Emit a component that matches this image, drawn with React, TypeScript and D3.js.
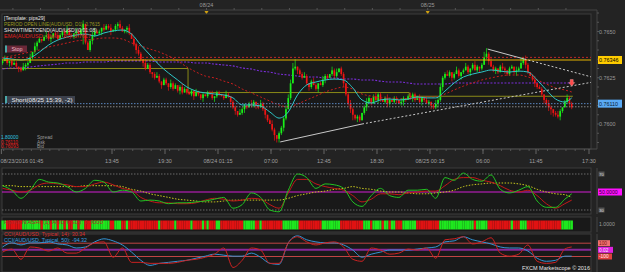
import React from "react";
import * as d3 from "d3";

// ---------- DATA ----------
const START = Date.UTC(2016, 7, 23, 1, 45);
const BAR_MS = 15 * 60 * 1000;
const OPEN0 = 33; // pips above 0.7600 for first open

// 15-minute closes, pips above 0.7600
const closePips = [
  34, 35, 33, 34, 32, 33, 31, 30, 29, 31, 32, 33,
  36, 39, 42, 44,
  46, 45, 47, 48, 46, 47, 49, 48, 46,
  48, 50, 49, 51, 48, 47, 49, 50, 48, 51,
  54, 44, 40, 45,
  48, 50, 49,
  50, 52, 51, 53, 52, 50, 51, 53, 54, 52, 50, 51, 52, 49, 46,
  43, 40, 38,
  35, 33, 30, 32, 28,
  27, 25, 26, 23, 21, 24,
  22, 20, 22, 19, 21, 18, 20, 17, 19,
  17, 16, 18, 15, 17, 16, 14, 16, 15, 17, 16, 14, 15, 17, 16, 15, 14, 16, 15,
  12, 9, 7, 5, 6,
  8, 10, 9, 11, 10, 12, 10, 9, 11,
  8, 5, 2, 0, -3, -6, -8, -5,
  -2, 3, 8, 14,
  22, 30, 31,
  29, 27, 25, 26,
  22, 20, 23, 21, 19, 22, 21,
  24, 26, 25, 27, 29, 26, 28, 30, 27,
  22, 16, 11, 8,
  5, 3, 4, 2, 6,
  9, 12, 14, 11, 15, 13, 16,
  13, 12, 14, 11, 13, 12, 14, 13, 11, 12, 14, 13,
  15, 14, 16, 13, 15, 12, 14, 13, 11, 12, 10, 9, 11,
  13, 20, 25, 27,
  26, 28, 25, 27, 29, 26, 28,
  29, 31, 28, 30, 32, 29, 31, 30, 32,
  36, 38, 34,
  31, 29, 30, 28, 31, 30, 29, 27, 30, 31, 28, 29, 30,
  33, 35, 32,
  28, 26, 24, 22, 20, 19,
  16, 13, 11, 9, 8,
  6, 5, 4, 7,
  9, 12, 14, 11, 9,
];

const upWick = [
  "1210121012", "1120211012", "2101210121", "1021120112", "2110211201",
  "1210120112", "1021101210", "1102110121", "0110210101", "1201101210",
  "1102110121", "0121101210", "1112223401", "1210121012", "1102120110",
  "1210110121", "0121101210", "1102101211", "0110210121", "2112101210",
  "1210121013", "3121101210", "1102131210", "1201101210", "12101211",
].join("");
const dnWick = [
  "1012101210", "2101120101", "1210101210", "0121081012", "1012101201",
  "2101210121", "1210121012", "0121101210", "1012011201", "0121101012",
  "1210121011", "2101210132", "2121010121", "1012101201", "2101210121",
  "1231210121", "1012101210", "1201210121", "0121012112", "1210121012",
  "1012101210", "1201210121", "1012101210", "1210121232", "11210121",
].join("");

// Heiken Ashi colour strip (g = up, r = down), one per bar
const haColor = [
  "ggrrrrrrrggg", "gggg", "grgggrggr", "ggrgrrggrg", "grrr", "ggg",
  "gggggrrgggrrgrr", "rrr", "rrrrr", "rrrgrr", "rrrrgrrrr",
  "rrgrrrrgrgrrrggrrrr", "rrrrr", "rgggggrrg", "rrrrrrrr", "rggg", "ggg",
  "grrr", "rrrrrrr", "ggggggggr", "rrrr", "rrrrr", "gggrggg",
  "grggrggrrrgg", "ggggrrrrrrrrr", "rggg", "ggggggg", "gggggrggg", "ggr",
  "rrrrrrrrrgrrr", "ggg", "rrrrrr", "rrrrr", "rrrr", "ggggg",
].join("");

// hourly sample bars for the indicator lines
const sampleIdx = [...d3.range(0, 248, 4), 247];

const emaFastPips = [
  35.7, 35.1, 34.6, 35.7, 38.9, 42.7, 45.4, 47.0, 48.1, 48.6, 47.6, 49.2, 50.3,
  50.8, 48.6, 42.7, 37.3, 31.9, 27.6, 23.8, 20.0, 17.8, 16.8, 16.2, 15.7, 14.1,
  10.3, 10.3, 9.7, 6.5, 3.2, 6.5, 15.7, 21.1, 22.7, 23.8, 24.3, 23.8, 19.5, 13.0,
  11.4, 13.0, 13.5, 13.0, 13.5, 14.6, 14.1, 14.1, 17.8, 22.2, 25.4, 27.0, 28.1,
  29.2, 28.6, 28.1, 28.6, 28.1, 23.8, 18.4, 13.5, 11.9, 14.1,
];
const emaMidPips = [
  35.7, 36.8, 37.8, 38.9, 40.0, 41.6, 42.7, 43.8, 44.9, 45.4, 45.9, 46.5, 46.5,
  45.9, 43.8, 42.2, 40.5, 38.9, 36.8, 34.1, 30.8, 28.1, 25.9, 24.9, 23.2, 21.6,
  18.9, 16.8, 14.6, 12.4, 10.3, 9.2, 10.8, 13.0, 15.1, 17.3, 18.9, 20.0, 18.9,
  16.2, 15.1, 14.1, 14.1, 13.5, 13.5, 14.1, 14.6, 14.6, 16.2, 18.4, 20.5, 22.2,
  23.8, 24.9, 25.9, 26.5, 26.5, 25.4, 23.8, 21.6, 19.5, 18.4, 17.3,
];
const emaSlowPips = [
  29.7, 30.3, 30.3, 30.8, 31.4, 31.9, 32.4, 33.0, 33.0, 33.5, 33.5, 33.5, 34.1,
  34.1, 34.1, 34.1, 34.1, 33.5, 33.5, 33.5, 33.5, 33.0, 33.0, 32.4, 31.9, 31.4,
  30.3, 29.7, 28.6, 28.1, 27.0, 26.5, 25.9, 25.4, 25.4, 24.9, 24.9, 24.3, 24.3,
  23.8, 23.8, 23.2, 22.7, 22.7, 22.2, 21.6, 21.6, 21.6, 21.6, 22.2, 22.2, 22.2,
  22.2, 22.2, 22.2, 22.2, 22.2, 22.2, 22.2, 22.2, 22.2, 22.2, 22.2,
];

const oscFast = [
  57, 52, 43, 52, 64, 61, 60, 56, 50, 54, 63, 61, 50, 52, 50, 40, 41, 40, 37, 38,
  38, 39, 40, 42, 44, 32, 36, 49, 44, 30, 28, 52, 70, 66, 54, 59, 58, 54, 39, 34,
  46, 54, 46, 44, 52, 52, 53, 43, 66, 63, 71, 64, 62, 69, 53, 49, 52, 56, 40, 33,
  33, 42, 48,
];
const oscSlow = [
  54, 52, 50, 52, 58, 60, 59, 58, 56, 56, 59, 61, 58, 54, 52, 44, 40, 38, 38, 37,
  37, 38, 41, 43, 42, 40, 41, 43, 42, 36, 32, 49, 64, 64, 59, 56, 54, 52, 46, 39,
  42, 48, 48, 47, 49, 50, 51, 51, 57, 64, 66, 66, 63, 61, 57, 52, 50, 52, 46, 37,
  32, 37, 41,
];
const oscSignal = [
  57, 57, 56, 56, 56, 56, 56, 56, 56, 57, 57, 57, 57, 56, 53, 51, 48, 46, 44, 42,
  41, 40, 39, 39, 40, 41, 41, 41, 41, 41, 41, 43, 46, 48, 50, 51, 53, 54, 56, 54,
  53, 51, 50, 50, 49, 48, 48, 49, 50, 52, 56, 58, 59, 60, 60, 60, 59, 57, 53, 50,
  48, 47, 44,
];
const cci14 = [
  -34, 12, -142, 43, 28, -18, 28, -49, -49, 28, 105, 120, -111, 28, -188, -188,
  -203, -203, -203, -188, -157, -142, -111, -65, 28, -265, -157, 28, -3, -203,
  -203, 105, 197, 120, 74, 105, 120, 43, -142, -172, 28, -3, -65, -49, 12, -3, 28,
  -126, 151, 166, 197, 89, 120, 182, -49, -95, -65, 74, -172, -203, -188, 12, 43,
];
const cci50 = [
  43, 105, 74, 105, 105, 120, 89, 74, 28, 43, 120, 166, 135, 74, -34, -157, -234,
  -203, -188, -172, -157, -126, -95, -65, -80, -95, -95, -49, -111, -203, -218,
  105, 212, 151, 120, 105, 105, 74, -3, -111, -65, -34, -3, -3, -3, 12, 28, 43,
  120, 135, 197, 151, 120, 89, 43, 28, 28, -18, -126, -172, -157, -95, -95,
];

// price levels
const LV_STOP = 0.7636;
const LV_DAYHI = 0.76346;
const LV_ASK = 0.7611;
const LV_BID = 0.76093;
const periodOpen = [
  { from: START, to: Date.UTC(2016, 7, 23, 22, 0), v: 0.763 },
  { from: Date.UTC(2016, 7, 23, 22, 0), to: Date.UTC(2016, 7, 24, 22, 0), v: 0.7617 },
  { from: Date.UTC(2016, 7, 24, 22, 0), to: Date.UTC(2016, 7, 25, 15, 45), v: 0.7615 },
];
// trend lines: [barIndex, price] anchors
const supportLine = { a: [120.5, 0.75903], b: [156, 0.76], end: 0.76225 };
const resistLine = { a: [210.5, 0.76405], b: [226.5, 0.76351], end: 0.76255 };

const priceTicks = [0.76, 0.7625, 0.765];
const timeLabels: [number, string][] = [
  [Date.UTC(2016, 7, 23, 1, 45), "08/23/2016 01:45"],
  [Date.UTC(2016, 7, 23, 13, 45), "13:45"],
  [Date.UTC(2016, 7, 23, 19, 30), "19:30"],
  [Date.UTC(2016, 7, 24, 1, 15), "08/24 01:15"],
  [Date.UTC(2016, 7, 24, 7, 0), "07:00"],
  [Date.UTC(2016, 7, 24, 12, 45), "12:45"],
  [Date.UTC(2016, 7, 24, 18, 30), "18:30"],
  [Date.UTC(2016, 7, 25, 0, 15), "08/25 00:15"],
  [Date.UTC(2016, 7, 25, 6, 0), "06:00"],
  [Date.UTC(2016, 7, 25, 11, 45), "11:45"],
  [Date.UTC(2016, 7, 25, 17, 30), "17:30"],
];
const dayLabels: [number, string][] = [
  [Date.UTC(2016, 7, 24), "08/24"],
  [Date.UTC(2016, 7, 25), "08/25"],
];

// ---------- CHART ----------
const FONT = "'Liberation Sans', Arial, sans-serif";
const L = 2, R = 591;
const MAIN = { t: 14, b: 149 };
const OSC = { t: 168, b: 214 };
const HA = { t: 217, b: 232 };
const CCI = { t: 234, b: 272 };

export default function App() {
  const x = d3
    .scaleUtc()
    .domain([new Date(Date.UTC(2016, 7, 23, 13, 45)), new Date(Date.UTC(2016, 7, 25, 17, 30))])
    .range([112, 589]);
  const tx = (ms: number) => x(new Date(ms));
  const bw = tx(START + BAR_MS) - tx(START);
  const cx = (i: number) => tx(START + i * BAR_MS) + bw / 2;
  const y = d3.scaleLinear().domain([0.76, 0.765]).range([124, 31.5]);
  const P = (p: number) => 0.76 + p / 10000;
  const yo = d3.scaleLinear().domain([30, 70]).range([210, 174]);
  const yc = d3.scaleLinear().domain([-100, 100]).range([256.5, 243.2]);

  const sLine = (yy: (v: number) => number) =>
    d3
      .line<number>()
      .x((_, k) => cx(sampleIdx[k]))
      .y((v) => yy(v))
      .curve(d3.curveMonotoneX);
  const pipLine = sLine((v) => y(P(v)));

  const candles = closePips.map((c, i) => {
    const o = i === 0 ? OPEN0 : closePips[i - 1];
    const hi = Math.max(o, c) + Number(upWick[i] || 0);
    const lo = Math.min(o, c) - Number(dnWick[i] || 0);
    const col = c >= o ? "#19f019" : "#f01414";
    const top = y(P(Math.max(o, c)));
    const bot = y(P(Math.min(o, c)));
    const xc = cx(i);
    return (
      <g key={i}>
        <line x1={xc} x2={xc} y1={y(P(hi))} y2={y(P(lo))} stroke={col} strokeWidth={0.7} />
        <rect x={xc - 0.85} width={1.7} y={top} height={Math.max(0.8, bot - top)} fill={col} />
      </g>
    );
  });

  const trend = (ln: any) => {
    const [ia, pa] = ln.a, [ib, pb] = ln.b;
    return { x1: cx(ia), y1: y(pa), x2: cx(ib), y2: y(pb), x3: R, y3: y(ln.end) };
  };
  const sup = trend(supportLine);
  const res = trend(resistLine);

  const hourTicks = d3.utcHour.every(1)!.range(new Date(START), new Date(Date.UTC(2016, 7, 25, 18)));
  const threeH = d3.utcHour.every(3)!.range(new Date(START), new Date(Date.UTC(2016, 7, 25, 18)));
  const priceMinor = d3.range(0.759, 0.7661, 0.0005);

  const panel = (p: { t: number; b: number }, key: string) => (
    <rect key={key} x={L} y={p.t} width={R - L} height={p.b - p.t} fill="#191919" stroke="#3d3d3d" strokeWidth={1} />
  );

  const txt = (props: any, s: string) => (
    <text fontFamily={FONT} {...props}>
      {s}
    </text>
  );

  return (
    <svg width={625} height={272} style={{ position: "absolute", left: 0, top: 0, background: "#232323" }}>
      <defs>
        <clipPath id="cm"><rect x={L} y={MAIN.t} width={R - L} height={MAIN.b - MAIN.t} /></clipPath>
        <clipPath id="co"><rect x={L} y={OSC.t} width={R - L} height={OSC.b - OSC.t} /></clipPath>
        <clipPath id="cc"><rect x={L} y={CCI.t} width={R - L} height={CCI.b - CCI.t} /></clipPath>
      </defs>
      <rect width={625} height={272} fill="#232323" />

      {/* top date strip */}
      <line x1={0} x2={597} y1={10} y2={10} stroke="#444" />
      {threeH.map((d, k) => (
        <line key={k} x1={x(d)} x2={x(d)} y1={8} y2={10} stroke="#555" />
      ))}
      {dayLabels.map(([ms, s]) => (
        <g key={s}>
          {txt({ x: tx(ms), y: 6.5, fontSize: 5.5, fill: "#9a9a9a", textAnchor: "middle" }, s)}
          <path d={`M${tx(ms) - 2},11 L${tx(ms) + 2},11 L${tx(ms)},14.5 Z`} fill="#d0a010" />
        </g>
      ))}
      <line x1={597} x2={597} y1={10} y2={MAIN.b} stroke="#444" />

      {/* main panel */}
      {panel(MAIN, "pm")}
      <g clipPath="url(#cm)">
        {periodOpen.map((s, k) => (
          <line key={k} x1={Math.max(L, tx(s.from))} x2={tx(s.to)} y1={y(s.v)} y2={y(s.v)} stroke="#8a8a18" strokeWidth={1} />
        ))}
        {periodOpen.slice(1).map((s, k) => (
          <line key={"v" + k} x1={tx(s.from)} x2={tx(s.from)} y1={y(periodOpen[k].v)} y2={y(s.v)} stroke="#8a8a18" strokeWidth={1} />
        ))}
        <path d={pipLine(emaSlowPips) || ""} fill="none" stroke="#7a2ed8" strokeWidth={1.1} strokeDasharray="2 1.5" />
        {candles}
        <path d={pipLine(emaMidPips) || ""} fill="none" stroke="#c81e1e" strokeWidth={1} strokeDasharray="2 2" />
        <path d={pipLine(emaFastPips) || ""} fill="none" stroke="#2ec8c8" strokeWidth={1} />
        <line x1={L} x2={R} y1={y(LV_STOP)} y2={y(LV_STOP)} stroke="#c02828" strokeWidth={1} strokeDasharray="2 2" />
        <line x1={L} x2={R} y1={y(LV_DAYHI)} y2={y(LV_DAYHI)} stroke="#e6b400" strokeWidth={1.2} />
        <line x1={L} x2={R} y1={y(LV_ASK)} y2={y(LV_ASK)} stroke="#5a86c0" strokeWidth={1} strokeDasharray="1.5 1.5" />
        <line x1={L} x2={R} y1={y(LV_BID)} y2={y(LV_BID)} stroke="#8a8a8a" strokeWidth={1} strokeDasharray="1.5 1.5" />
        <line x1={sup.x1} y1={sup.y1} x2={sup.x2} y2={sup.y2} stroke="#c8c8c8" strokeWidth={1} />
        <line x1={sup.x2} y1={sup.y2} x2={sup.x3} y2={sup.y3} stroke="#c8c8c8" strokeWidth={1} strokeDasharray="2 2" />
        <line x1={res.x1} y1={res.y1} x2={res.x2} y2={res.y2} stroke="#c8c8c8" strokeWidth={1} />
        <line x1={res.x2} y1={res.y2} x2={res.x3} y2={res.y3} stroke="#c8c8c8" strokeWidth={1} strokeDasharray="2 2" />
        {/* short entry arrow */}
        <path
          d={`M${cx(247) - 1.5},${y(0.7624)} h3 v3 h1.5 l-3,3.5 l-3,-3.5 h1.5 Z`}
          fill="#ff4a4a"
          stroke="#ffb0b0"
          strokeWidth={0.4}
        />
      </g>
      {txt({ x: 4, y: 19.5, fontSize: 5.4, fill: "#e8e8e8", textLength: 41, lengthAdjust: "spacingAndGlyphs" }, "[Template: pips29]")}
      {txt({ x: 4, y: 25.8, fontSize: 5.4, fill: "#9a9a22", textLength: 96, lengthAdjust: "spacingAndGlyphs" }, "PERIOD OPEN LINE(AUD/USD, D1): 0.7615")}
      {txt({ x: 4, y: 32, fontSize: 5.4, fill: "#e0e0e0", textLength: 93, lengthAdjust: "spacingAndGlyphs" }, "SHOWTIMETOEND(AUD/USD)(0:01:08)")}
      {txt({ x: 4, y: 38.3, fontSize: 5.4, fill: "#e02020", textLength: 87, lengthAdjust: "spacingAndGlyphs" }, "EMA(AUD/USD, Close, 20): 0.7617")}
      {/* Stop label */}
      <rect x={5} y={45.5} width={22} height={7} fill="#6a2838" />
      <rect x={5} y={45.5} width={2} height={7} fill="#4aa8a8" />
      {txt({ x: 11.5, y: 51, fontSize: 5.4, fill: "#f0b8c8" }, "Stop")}
      {/* Short label */}
      <rect x={5} y={96} width={70} height={7} fill="#3c414c" />
      <rect x={5} y={96} width={2} height={7} fill="#4aa8a8" />
      {txt({ x: 11.5, y: 101.5, fontSize: 5.4, fill: "#e8e8e8", textLength: 61, lengthAdjust: "spacingAndGlyphs" }, "Short(08/25 15:39, -2)")}
      {/* spread / ask / bid */}
      {txt({ x: 1, y: 139.2, fontSize: 4.8, fill: "#30c8e0" }, "1.80000")}
      {txt({ x: 37, y: 139.2, fontSize: 4.8, fill: "#9a9a9a" }, "Spread")}
      {txt({ x: 1, y: 143.9, fontSize: 4.8, fill: "#e82020" }, "0.76110")}
      {txt({ x: 37, y: 143.9, fontSize: 4.8, fill: "#9a9a9a" }, "Ask")}
      {txt({ x: 1, y: 148.4, fontSize: 4.8, fill: "#e82020" }, "0.76093")}
      {txt({ x: 37, y: 148.4, fontSize: 4.8, fill: "#9a9a9a" }, "Bid")}

      {/* price axis */}
      {priceMinor.map((v, k) => (
        <line key={k} x1={597} x2={599} y1={y(v)} y2={y(v)} stroke="#555" />
      ))}
      {priceTicks.map((v) => txt({ key: v, x: 599, y: y(v) + 2, fontSize: 5.4, fill: "#9a9a9a" }, v.toFixed(4)))}
      <rect x={598} y={y(LV_DAYHI) - 4} width={24} height={8} fill="#ffcc00" />
      {txt({ x: 599, y: y(LV_DAYHI) + 2, fontSize: 5.4, fill: "#000" }, LV_DAYHI.toFixed(5))}
      <rect x={598} y={y(LV_ASK) - 4} width={24} height={8} fill="#5aaaf5" />
      {txt({ x: 599, y: y(LV_ASK) + 2, fontSize: 5.4, fill: "#0a1a30" }, LV_ASK.toFixed(5))}

      {/* time axis */}
      <line x1={L} x2={597} y1={MAIN.b} y2={MAIN.b} stroke="#4a4a4a" />
      {hourTicks.map((d, k) => (
        <line key={k} x1={x(d)} x2={x(d)} y1={MAIN.b} y2={MAIN.b + 2} stroke="#555" />
      ))}
      {timeLabels.map(([ms, s], k) => (
        <g key={s}>
          <line x1={tx(ms)} x2={tx(ms)} y1={MAIN.b} y2={MAIN.b + 5} stroke="#666" />
          {txt(
            { x: k === 0 ? 0.5 : tx(ms), y: 163, fontSize: 5.5, fill: "#a0a0a0", textAnchor: k === 0 ? "start" : "middle" },
            s
          )}
        </g>
      ))}

      {/* oscillator panel */}
      {panel(OSC, "po")}
      <g clipPath="url(#co)">
        <line x1={L} x2={R} y1={yo(70)} y2={yo(70)} stroke="#6a6a6a" strokeDasharray="1.5 1.5" />
        <line x1={L} x2={R} y1={yo(30)} y2={yo(30)} stroke="#6a6a6a" strokeDasharray="1.5 1.5" />
        <line x1={L} x2={R} y1={yo(50)} y2={yo(50)} stroke="#d21ed2" strokeWidth={1} />
        <path d={sLine(yo)(oscSignal) || ""} fill="none" stroke="#c8c81e" strokeWidth={1} strokeDasharray="1.5 1.5" />
        <path d={sLine(yo)(oscSlow) || ""} fill="none" stroke="#c41818" strokeWidth={1} />
        <path d={sLine(yo)(oscFast) || ""} fill="none" stroke="#22c422" strokeWidth={1} />
      </g>
      <line x1={597} x2={597} y1={OSC.t} y2={OSC.b} stroke="#444" />
      <rect x={598.5} y={yo(70) - 2.5} width={6} height={5} fill="#555" />
      {txt({ x: 599.2, y: yo(70) + 1.6, fontSize: 4, fill: "#ddd" }, "70")}
      <rect x={598.5} y={yo(30) - 2.5} width={6} height={5} fill="#555" />
      {txt({ x: 599.2, y: yo(30) + 1.6, fontSize: 4, fill: "#ddd" }, "30")}
      <rect x={598} y={yo(50) - 3.5} width={24} height={7} fill="#ff10ff" />
      {txt({ x: 599, y: yo(50) + 2, fontSize: 5.2, fill: "#300030" }, "50.0000")}

      {/* Heiken Ashi strip */}
      {panel(HA, "ph")}
      {haColor.split("").map((c, i) => (
        <rect key={i} x={cx(i) - bw / 2} y={HA.t + 3.5} width={bw + 0.05} height={9} fill={c === "g" ? "#1ee81e" : "#e01212"} />
      ))}
      {txt({ x: 4, y: 223.5, fontSize: 5.2, fill: "#b02828", textLength: 99, lengthAdjust: "spacingAndGlyphs" }, "HEIKEN ASHI (1)(AUD/USD): 1.0000")}
      <line x1={597} x2={597} y1={HA.t} y2={HA.b} stroke="#444" />
      {txt({ x: 599, y: 226, fontSize: 5.2, fill: "#9a9a9a" }, "1.0000")}

      {/* CCI panel */}
      {panel(CCI, "pc")}
      <g clipPath="url(#cc)">
        <line x1={L} x2={R} y1={yc(100)} y2={yc(100)} stroke="#c04444" />
        <line x1={L} x2={R} y1={yc(-100)} y2={yc(-100)} stroke="#c04444" />
        <line x1={L} x2={R} y1={yc(0)} y2={yc(0)} stroke="#86289a" strokeWidth={2} />
        <path d={sLine(yc)(cci50) || ""} fill="none" stroke="#3294d4" strokeWidth={1} />
        <path d={sLine(yc)(cci14) || ""} fill="none" stroke="#cc2222" strokeWidth={1} />
      </g>
      {txt({ x: 4, y: 235.5, fontSize: 5.2, fill: "#dd3030", textLength: 81, lengthAdjust: "spacingAndGlyphs" }, "CCI(AUD/USD, Typical, 14): 30.34")}
      {txt({ x: 4, y: 241.8, fontSize: 5.2, fill: "#3aa0e0", textLength: 83, lengthAdjust: "spacingAndGlyphs" }, "CCI(AUD/USD, Typical, 50): -94.32")}
      <line x1={597} x2={597} y1={CCI.t} y2={CCI.b} stroke="#444" />
      <rect x={598} y={yc(100) - 3} width={12} height={6} fill="#f07070" />
      {txt({ x: 599, y: yc(100) + 1.8, fontSize: 4.8, fill: "#801010" }, "100")}
      <rect x={598} y={yc(0) - 3} width={15} height={6} fill="#e020e0" />
      {txt({ x: 599, y: yc(0) + 1.8, fontSize: 4.8, fill: "#f0f0f0" }, "0.02")}
      <rect x={598} y={yc(-100) - 3} width={14} height={6} fill="#e04040" />
      {txt({ x: 599, y: yc(-100) + 1.8, fontSize: 4.8, fill: "#fff0f0" }, "-100")}
      {txt({ x: 522, y: 269.5, fontSize: 5.4, fill: "#e8e8e8", textLength: 68, lengthAdjust: "spacingAndGlyphs" }, "FXCM Marketscope © 2016")}
    </svg>
  );
}
